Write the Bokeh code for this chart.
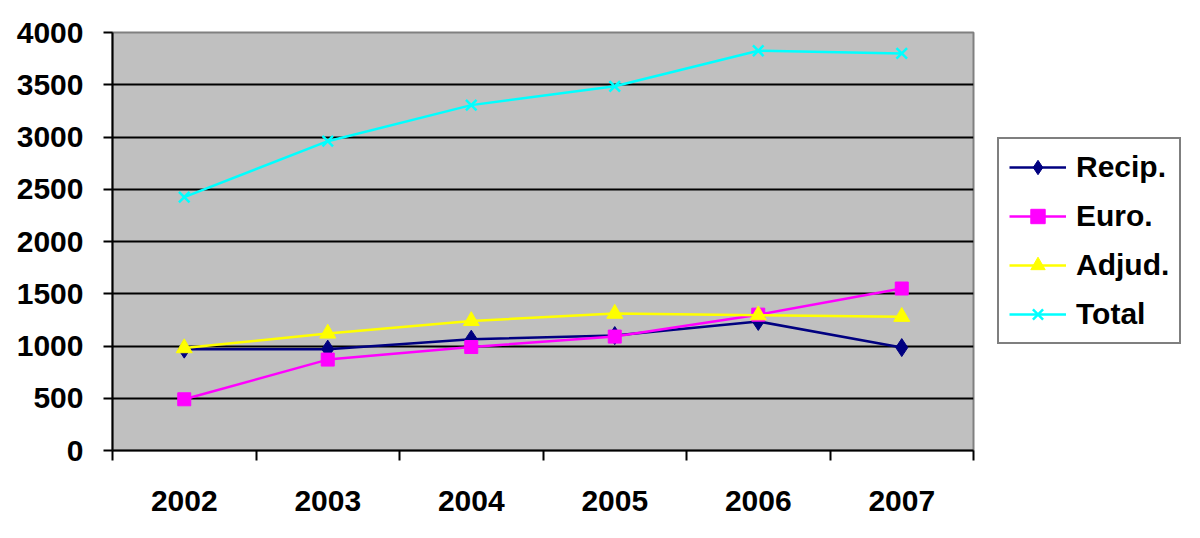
from bokeh.plotting import figure
from bokeh.models import Range1d, FixedTicker, Legend, LegendItem
from bokeh.layouts import row
from bokeh.embed import file_html
from bokeh.resources import INLINE

years = ["2002", "2003", "2004", "2005", "2006", "2007"]
recip = [970, 970, 1065, 1100, 1235, 985]
euro = [490, 870, 990, 1090, 1300, 1550]
adjud = [980, 1120, 1240, 1310, 1295, 1280]
total = [2425, 2960, 3305, 3485, 3825, 3800]
y_ticks = [0, 500, 1000, 1500, 2000, 2500, 3000, 3500, 4000]

FONT = "Liberation Sans"
FS = "30px"

xs = [i + 0.5 for i in range(len(years))]

p = figure(width=985, height=530, output_backend="svg", toolbar_location=None,
           x_range=Range1d(0, len(years)), y_range=Range1d(0, 4000),
           min_border_left=112, min_border_right=12, min_border_top=32, min_border_bottom=80)

p.background_fill_color = "#C0C0C0"
p.border_fill_color = "white"
p.outline_line_color = "#808080"
p.outline_line_width = 2

# x axis
p.xaxis.ticker = FixedTicker(ticks=xs, minor_ticks=list(range(len(years) + 1)))
p.xaxis.major_label_overrides = {x: y for x, y in zip(xs, years)}
p.xaxis.major_tick_out = 0
p.xaxis.major_tick_in = 0
p.xaxis.minor_tick_out = 10
p.xaxis.minor_tick_in = 0
p.xaxis.minor_tick_line_color = "black"
p.xaxis.minor_tick_line_width = 2
p.xaxis.axis_line_color = "black"
p.xaxis.axis_line_width = 2
p.xaxis.major_label_standoff = 30
p.xaxis.major_label_text_font = FONT
p.xaxis.major_label_text_font_style = "bold"
p.xaxis.major_label_text_font_size = FS
p.xaxis.major_label_text_color = "black"

# y axis
p.yaxis.ticker = FixedTicker(ticks=y_ticks)
p.yaxis.minor_tick_line_color = None
p.yaxis.major_tick_out = 9
p.yaxis.major_tick_in = 0
p.yaxis.major_tick_line_width = 2
p.yaxis.major_tick_line_color = "black"
p.yaxis.axis_line_color = "black"
p.yaxis.axis_line_width = 2
p.yaxis.major_label_standoff = 20
p.yaxis.major_label_text_font = FONT
p.yaxis.major_label_text_font_style = "bold"
p.yaxis.major_label_text_font_size = FS
p.yaxis.major_label_text_color = "black"

p.xgrid.grid_line_color = None
p.ygrid.ticker = FixedTicker(ticks=y_ticks[1:-1])
p.ygrid.grid_line_color = "black"
p.ygrid.grid_line_width = 2

series = [
    ("Recip.", recip, "#000080", "diamond", 18),
    ("Euro.", euro, "#FF00FF", "square", 13),
    ("Adjud.", adjud, "#FFFF00", "triangle", 16),
    ("Total", total, "#00FFFF", "x", 15),
]

# side figure that only holds the legend (its glyphs lie outside its view)
p2 = figure(width=215, height=530, output_backend="svg", toolbar_location=None,
            x_range=Range1d(100, 101), y_range=Range1d(100000, 100001),
            min_border_left=0, min_border_right=0, min_border_top=0, min_border_bottom=0)
p2.axis.visible = False
p2.grid.visible = False
p2.outline_line_color = None
p2.background_fill_color = "white"


def draw(fig, vals, color, marker, size):
    l = fig.line(xs, vals, line_color=color, line_width=2.5)
    if marker == "x":
        s = fig.scatter(xs, vals, marker="x", size=size, line_color=color, line_width=2.5)
    else:
        s = fig.scatter(xs, vals, marker=marker, size=size, fill_color=color, line_color=color)
    return l, s


items = []
for name, vals, color, marker, size in series:
    draw(p, vals, color, marker, size)
    l2, s2 = draw(p2, vals, color, marker, size)
    items.append(LegendItem(label=name, renderers=[l2, s2]))

legend = Legend(items=items, location=(12, 106))
legend.border_line_color = "black"
legend.border_line_width = 2
legend.background_fill_color = "white"
legend.background_fill_alpha = 1
legend.label_text_font = FONT
legend.label_text_font_style = "bold"
legend.label_text_font_size = FS
legend.label_text_color = "black"
legend.glyph_width = 57
legend.glyph_height = 36
legend.label_height = 36
legend.spacing = 13
legend.padding = 10
legend.margin = 0
legend.label_standoff = 10
p2.add_layout(legend, "center")

layout = row(p, p2)
open("out.html", "w").write(file_html(layout, INLINE))
